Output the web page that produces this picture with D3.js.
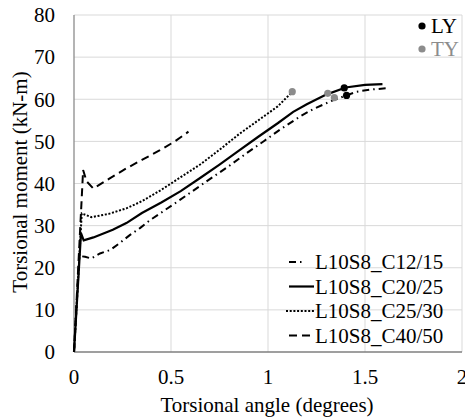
<!DOCTYPE html>
<html>
<head>
<meta charset="utf-8">
<script src="https://cdn.jsdelivr.net/npm/d3@7"></script>
<style>
  body { margin: 0; background: #fff; }
</style>
</head>
<body>
<script>
//Data------------------------------------------------------------------------------------------
var seriesNames = ["L10S8_C12/15", "L10S8_C20/25", "L10S8_C25/30", "L10S8_C40/50"];

var c1215 = [[0,0],[0.028,22.8],[0.057,22.6],[0.09,22.2],[0.134,23.4],[0.186,24.2],[0.237,25.9],
  [0.289,27.8],[0.34,29.4],[0.392,31.3],[0.45,33.1],[0.546,36.1],[0.63,38.8],[0.718,41.6],
  [0.8,44.2],[0.89,47.2],[0.98,50.1],[1.062,52.8],[1.165,55.9],[1.234,57.7],[1.337,59.8],
  [1.457,61.8],[1.53,62.3],[1.61,62.6]];
var c2025 = [[0,0],[0.036,28.2],[0.05,26.5],[0.1,27.2],[0.2,29],[0.27,30.6],[0.35,33],[0.45,35.5],
  [0.55,38.2],[0.65,41.3],[0.75,44.5],[0.85,47.8],[0.95,51.1],[1.05,54.3],[1.13,57],[1.2,58.8],
  [1.3,61.1],[1.4,62.8],[1.5,63.4],[1.59,63.6]];
var c2530 = [[0,0],[0.04,32.9],[0.09,32],[0.18,32.8],[0.27,34.1],[0.35,35.8],[0.45,38.5],
  [0.55,41.5],[0.65,44.5],[0.75,48],[0.85,51.7],[0.95,55],[1.05,58.3],[1.122,61.6]];
var c4050 = [[0,0],[0.047,43.2],[0.065,40.5],[0.1,38.8],[0.18,41.1],[0.27,43.6],[0.35,45.6],
  [0.443,47.9],[0.52,50],[0.59,52.3]];

var lyPoints = [[1.393,62.7],[1.405,60.9]];
var tyPoints = [[1.125,61.8],[1.308,61.4],[1.342,60.4]];

var xTicks = [0, 0.5, 1, 1.5, 2];
var yTicks = [0, 10, 20, 30, 40, 50, 60, 70, 80];

//Setup-----------------------------------------------------------------------------------------
var width = 465, height = 417;
var plotLeft = 74, plotRight = 462, plotTop = 15, plotBottom = 352;
var fontFamily = "Liberation Serif, Times New Roman, DejaVu Serif, serif";
var fontSize = 21;

var svg = d3.select("body").append("svg")
  .attr("width", width)
  .attr("height", height);

var x = d3.scaleLinear().domain([0, 2]).range([plotLeft, plotRight]);
var y = d3.scaleLinear().domain([0, 80]).range([plotBottom, plotTop]);

// line styles, same order as seriesNames (legX = legend sample start/end)
var styles = [
  { data: c1215, dash: "7,4,1.5,4", width: 2, legX: [289, 302] },
  { data: c2025, dash: null, width: 2.2, legX: [289, 314] },
  { data: c2530, dash: "2,1.7", width: 2, legX: [286, 314] },
  { data: c4050, dash: "8,5", width: 2, legX: [289, 314] }
];

function addText(sel) {
  return sel.append("text")
    .attr("font-family", fontFamily)
    .attr("font-size", fontSize);
}

//Grid------------------------------------------------------------------------------------------
svg.append("g").selectAll("line")
  .data(yTicks.filter(function(d) { return d > 0; }))
  .enter().append("line")
  .attr("x1", plotLeft).attr("x2", plotRight)
  .attr("y1", function(d) { return y(d); })
  .attr("y2", function(d) { return y(d); })
  .style("stroke", "#d9d9d9").style("stroke-width", 1);

svg.append("g").selectAll("line")
  .data(xTicks.filter(function(d) { return d > 0; }))
  .enter().append("line")
  .attr("y1", plotTop).attr("y2", plotBottom)
  .attr("x1", function(d) { return x(d); })
  .attr("x2", function(d) { return x(d); })
  .style("stroke", "#d9d9d9").style("stroke-width", 1);

// axes lines
svg.append("line").attr("x1", plotLeft).attr("x2", plotLeft).attr("y1", plotTop).attr("y2", plotBottom)
  .style("stroke", "#8c8c8c").style("stroke-width", 1.3);
svg.append("line").attr("x1", plotLeft).attr("x2", plotRight).attr("y1", plotBottom).attr("y2", plotBottom)
  .style("stroke", "#7f7f7f").style("stroke-width", 1.3);

//Tick labels-----------------------------------------------------------------------------------
yTicks.forEach(function(d) {
  addText(svg)
    .attr("x", 55)
    .attr("y", y(d))
    .attr("dy", "0.35em")
    .attr("text-anchor", "end")
    .text(d);
});

xTicks.forEach(function(d) {
  addText(svg)
    .attr("x", x(d))
    .attr("y", 384)
    .attr("text-anchor", "middle")
    .text(d);
});

// axis titles
addText(svg)
  .attr("x", 267)
  .attr("y", 412)
  .attr("text-anchor", "middle")
  .text("Torsional angle (degrees)");

addText(svg)
  .attr("transform", "translate(27,182) rotate(-90)")
  .attr("text-anchor", "middle")
  .text("Torsional moment (kN-m)");

//Lines-----------------------------------------------------------------------------------------
var line = d3.line()
  .x(function(d) { return x(d[0]); })
  .y(function(d) { return y(d[1]); });

styles.forEach(function(s) {
  svg.append("path")
    .datum(s.data)
    .attr("d", line)
    .style("fill", "none")
    .style("stroke", "#000")
    .style("stroke-width", s.width)
    .style("stroke-dasharray", s.dash);
});

//Yield points----------------------------------------------------------------------------------
svg.append("g").selectAll("circle")
  .data(tyPoints)
  .enter().append("circle")
  .attr("cx", function(d) { return x(d[0]); })
  .attr("cy", function(d) { return y(d[1]); })
  .attr("r", 3.6)
  .style("fill", "#8c8c8c");

svg.append("g").selectAll("circle")
  .data(lyPoints)
  .enter().append("circle")
  .attr("cx", function(d) { return x(d[0]); })
  .attr("cy", function(d) { return y(d[1]); })
  .attr("r", 3.6)
  .style("fill", "#000");

//Legends---------------------------------------------------------------------------------------
var legY = [262, 286.5, 311, 335.5];
styles.forEach(function(s, i) {
  svg.append("line")
    .attr("x1", s.legX[0]).attr("x2", s.legX[1])
    .attr("y1", legY[i]).attr("y2", legY[i])
    .style("stroke", "#000")
    .style("stroke-width", s.width)
    .style("stroke-dasharray", s.dash);
  addText(svg)
    .attr("x", 315)
    .attr("y", legY[i])
    .attr("dy", "0.35em")
    .text(seriesNames[i]);
});

var markLeg = [{ label: "LY", color: "#000", y: 26 }, { label: "TY", color: "#8c8c8c", y: 49 }];
markLeg.forEach(function(m) {
  svg.append("circle").attr("cx", 422).attr("cy", m.y).attr("r", 3.6).style("fill", m.color);
  addText(svg)
    .attr("x", 431)
    .attr("y", m.y)
    .attr("dy", "0.35em")
    .style("fill", m.color)
    .text(m.label);
});
</script>
</body>
</html>
